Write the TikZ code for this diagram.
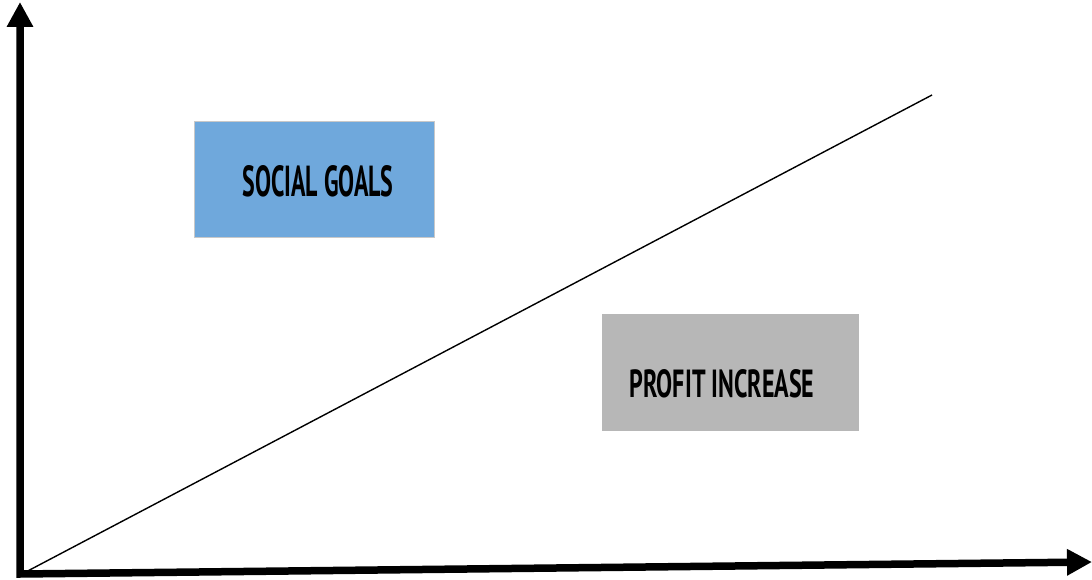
\documentclass[tikz,border=0pt]{standalone}
\usepackage{fontspec}
\setmainfont{PT Sans}
\usetikzlibrary{arrows.meta}
\definecolor{boxblue}{HTML}{6FA8DC}
\definecolor{boxgray}{HTML}{B7B7B7}
\definecolor{boxedge}{HTML}{C8C8C8}
\tikzset{
  axis/.style={line width=7.5pt, line join=miter, {Triangle[length=25pt,width=25pt]}-{Triangle[length=25pt,width=25pt]}},
  trend/.style={line width=1.4pt},
  labelbox/.style={draw=boxedge, line width=1.2pt, inner sep=0pt, anchor=north west},
  lbl/.style={inner sep=0pt}
}
\newcommand{\boxtext}[3]{\resizebox{#1}{#2}{\bfseries #3}}
\begin{document}
\begin{tikzpicture}[x=1pt,y=-1pt]
\useasboundingbox (0,0) rectangle (1092,580);
\coordinate (o) at (20,574);
\coordinate (ytop) at (20,2);
\coordinate (xend) at (1092,562);
\coordinate (tend) at (932,95);
\draw[axis] (ytop) -- (o) -- (xend);
\draw[trend] (22,574) -- (tend);
\node[labelbox, fill=boxblue, minimum width=240pt, minimum height=116pt] (sg) at (194,121) {};
\node[lbl] (sgt) at (318,181) {\boxtext{151pt}{31pt}{SOCIAL GOALS}};
\node[labelbox, fill=boxgray, draw=none, minimum width=257pt, minimum height=117pt] (pi) at (601,313) {};
\node[lbl] (pit) at (722,384) {\boxtext{185pt}{28pt}{PROFIT INCREASE}};
\end{tikzpicture}
\end{document}
